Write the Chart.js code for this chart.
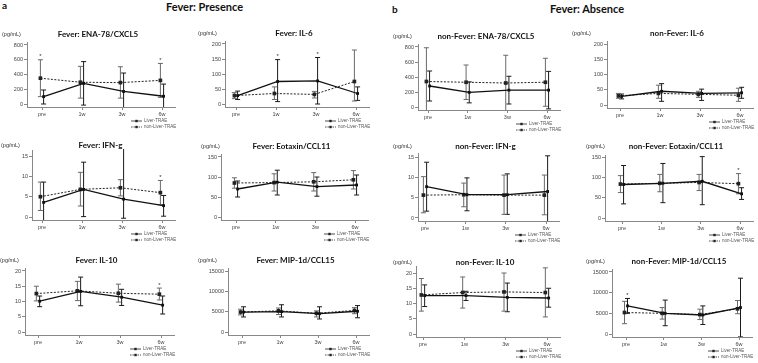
<!DOCTYPE html>
<html lang="en">
<head>
<meta charset="UTF-8">
<title>Fever: Presence / Absence</title>
<script src="https://cdn.jsdelivr.net/npm/chart.js"></script>
<style>
  body, html { margin: 0; padding: 0; width: 758px; height: 363px; overflow: hidden; background: #fff; }
  #wrap { position: relative; width: 758px; height: 363px; font-family: Lato, "Open Sans", Arial, sans-serif; }
  #wrap canvas { position: absolute; }
  .hdr { position: absolute; font-weight: 700; color: #111; white-space: nowrap; line-height: 1; }
</style>
</head>
<body>
<div id="wrap">
  <div class="hdr" style="left:2px;top:0px;font-size:10px">a</div>
  <div class="hdr" style="left:166px;top:1px;font-size:11px">Fever: Presence</div>
  <div class="hdr" style="left:392px;top:4px;font-size:10px">b</div>
  <div class="hdr" style="left:550px;top:3px;font-size:11px">Fever: Absence</div>
</div>
<script>
const timepoints = ['pre', '1w', '3w', '6w'];
const seriesNames = ['Liver-TRAE', 'non-Liver-TRAE'];

// values: mean, lower and upper end of each error bar
const feverENA = {
  title: 'Fever: ENA-78/CXCL5', yTicks: [0, 200, 400, 600, 800],
  liver: [100, 280, 170, 105], liverLo: [0, -15, -80, -60], liverHi: [190, 575, 420, 270],
  other: [350, 295, 290, 320], otherLo: [100, 80, 80, 90], otherHi: [600, 510, 505, 550],
  liverStars: [], otherStars: [0, 3]
};
const feverIL6 = {
  title: 'Fever: IL-6', yTicks: [0, 50, 100, 150, 200],
  liver: [28, 75, 77, 35], liverLo: [15, 8, 0, 12], liverHi: [43, 148, 155, 57],
  other: [28, 35, 32, 75], otherLo: [18, 15, 20, 10], otherHi: [38, 57, 42, 180],
  liverStars: [1, 2], otherStars: []
};
const nofeverENA = {
  title: 'non-Fever: ENA-78/CXCL5', yTicks: [0, 200, 400, 600, 800],
  liver: [280, 195, 225, 225], liverLo: [80, 55, 40, -25], liverHi: [480, 335, 410, 475],
  other: [340, 330, 320, 330], otherLo: [-100, 100, -50, 10], otherHi: [790, 560, 690, 650],
  liverStars: [], otherStars: []
};
const nofeverIL6 = {
  title: 'non-Fever: IL-6', yTicks: [0, 50, 100, 150, 200],
  liver: [28, 45, 38, 40], liverLo: [20, 12, 15, 22], liverHi: [36, 70, 52, 58],
  other: [30, 38, 35, 32], otherLo: [22, 22, 25, 12], otherHi: [38, 65, 45, 55],
  liverStars: [], otherStars: []
};
const feverIFN = {
  title: 'Fever: IFN-g', yTicks: [0, 5, 10, 15],
  liver: [3.6, 6.8, 4.4, 2.8], liverLo: [-1, 0.1, -0.3, 0.2], liverHi: [8.6, 13.5, 19, 5.3],
  other: [5.0, 6.8, 7.2, 6.0], otherLo: [1.6, 2.7, 5.2, 3.0], otherHi: [8.6, 11, 9.2, 9.0],
  liverStars: [], otherStars: [3]
};
const feverEotaxin = {
  title: 'Fever: Eotaxin/CCL11', yTicks: [0, 50, 100, 150],
  liver: [70, 87, 76, 80], liverLo: [50, 55, 52, 55], liverHi: [90, 117, 100, 105],
  other: [85, 86, 88, 93], otherLo: [72, 65, 65, 70], otherHi: [98, 108, 111, 116],
  liverStars: [], otherStars: []
};
const nofeverIFN = {
  title: 'non-Fever: IFN-g', yTicks: [0, 5, 10, 15],
  liver: [7.8, 5.8, 5.8, 6.6], liverLo: [1.7, 1.8, 0.9, -2.4], liverHi: [13.9, 10, 11, 15.5],
  other: [5.7, 5.8, 5.7, 5.7], otherLo: [1.3, 2.8, 0.9, 0.8], otherHi: [10.3, 8.7, 10.7, 10.7],
  liverStars: [], otherStars: []
};
const nofeverEotaxin = {
  title: 'non-Fever: Eotaxin/CCL11', yTicks: [0, 50, 100, 150],
  liver: [83, 86, 91, 60], liverLo: [35, 38, 33, 46], liverHi: [130, 135, 152, 75],
  other: [84, 86, 88, 85], otherLo: [63, 65, 68, 60], otherHi: [105, 108, 108, 110],
  liverStars: [], otherStars: [3]
};
const feverIL10 = {
  title: 'Fever: IL-10', yTicks: [0, 5, 10, 15, 20],
  liver: [10.1, 13.3, 11.4, 8.8], liverLo: [8.3, 8.6, 8.7, 5.9], liverHi: [11.8, 18, 14, 11.8],
  other: [12.6, 13.5, 12.7, 12.4], otherLo: [10.2, 10.3, 9.8, 10.5], otherHi: [15, 16.6, 15.7, 14.4],
  liverStars: [], otherStars: [3]
};
const feverMIP = {
  title: 'Fever: MIP-1d/CCL15', yTicks: [0, 5000, 10000, 15000],
  liver: [4900, 5000, 4500, 5100], liverLo: [3700, 3700, 3200, 3500], liverHi: [6200, 6700, 6200, 6500],
  other: [4900, 5200, 4600, 5300], otherLo: [4200, 4300, 3700, 4500], otherHi: [5600, 5900, 5200, 6000],
  liverStars: [], otherStars: []
};
const nofeverIL10 = {
  title: 'non-Fever: IL-10', yTicks: [0, 5, 10, 15, 20],
  liver: [12.6, 12.6, 12.0, 11.8], liverLo: [9, 11, 7.3, 8.8], liverHi: [16.1, 14, 16.7, 15],
  other: [12.8, 13.6, 13.8, 13.6], otherLo: [7.5, 8.5, 7.5, 5.6], otherHi: [18.2, 18.7, 20, 21.7],
  liverStars: [], otherStars: []
};
const nofeverMIP = {
  title: 'non-Fever: MIP-1d/CCL15', yTicks: [0, 5000, 10000, 15000],
  liver: [6800, 5000, 4600, 6400], liverLo: [5000, 2000, 2300, -700], liverHi: [8600, 8200, 6800, 13500],
  other: [5200, 5000, 4700, 6100], otherLo: [2500, 3600, 3500, 4900], otherHi: [7900, 6400, 6000, 8100],
  liverStars: [0], otherStars: []
};

// where each panel sits on the page (pixels)
const layout = [
  { d: feverENA,       axisX: 27,  preX: 42,  lastX: 162, topY: 45,  zeroY: 104, unitX: 2 },
  { d: feverIL6,       axisX: 225, preX: 236, lastX: 356, topY: 44,  zeroY: 104, unitX: 198 },
  { d: nofeverENA,     axisX: 418, preX: 428, lastX: 547, topY: 47,  zeroY: 107, unitX: 393 },
  { d: nofeverIL6,     axisX: 607, preX: 620, lastX: 740, topY: 44,  zeroY: 105, unitX: 572 },
  { d: feverIFN,       axisX: 32,  preX: 42,  lastX: 162, topY: 156, zeroY: 217, unitX: 1, yMax: 16.5 },
  { d: feverEotaxin,   axisX: 221, preX: 236, lastX: 355, topY: 157, zeroY: 217, unitX: 201 },
  { d: nofeverIFN,     axisX: 418, preX: 425, lastX: 546, topY: 158, zeroY: 218, unitX: 393, yMax: 16.2 },
  { d: nofeverEotaxin, axisX: 605, preX: 622, lastX: 740, topY: 157, zeroY: 218, unitX: 586, yMax: 156 },
  { d: feverIL10,      axisX: 25,  preX: 38,  lastX: 161, topY: 271, zeroY: 332, unitX: 0 },
  { d: feverMIP,       axisX: 228, preX: 242, lastX: 356, topY: 271, zeroY: 332, unitX: 198 },
  { d: nofeverIL10,    axisX: 416, preX: 423, lastX: 547, topY: 273, zeroY: 334, unitX: 393, yMax: 22.3 },
  { d: nofeverMIP,     axisX: 612, preX: 626, lastX: 739, topY: 272, zeroY: 334, unitX: 586 }
];

const PADL = 40, PADT = 26, PADR = 8, XAH = 12, PADB = 18;
const TICK_FONT = { family: 'Arial, sans-serif', size: 5.5 };

// error bars, drawn under the lines
const errorBars = {
  id: 'errorBars',
  beforeDatasetsDraw(chart) {
    const { ctx, chartArea: a, scales: { x, y } } = chart;
    ctx.save();
    ctx.beginPath();
    ctx.rect(a.left, a.top - 1, a.right - a.left, a.bottom - a.top + 1);
    ctx.clip();
    chart.data.datasets.forEach(ds => {
      ctx.strokeStyle = ds.errColor;
      ctx.lineWidth = 1;
      ds.data.forEach((pt, i) => {
        const px = x.getPixelForValue(pt.x);
        const lo = y.getPixelForValue(ds.lo[i]);
        const hi = y.getPixelForValue(ds.hi[i]);
        ctx.beginPath();
        ctx.moveTo(px, lo); ctx.lineTo(px, hi);
        ctx.moveTo(px - 2.5, lo); ctx.lineTo(px + 2.5, lo);
        ctx.moveTo(px - 2.5, hi); ctx.lineTo(px + 2.5, hi);
        ctx.stroke();
      });
    });
    ctx.restore();
  }
};

// title, unit, asterisks and the small legend
const panelText = {
  id: 'panelText',
  afterDraw(chart, args, opts) {
    const { ctx, chartArea: a, scales: { x, y } } = chart;
    const top = y.getPixelForValue(opts.top);
    ctx.save();
    ctx.fillStyle = '#111';
    ctx.textBaseline = 'middle';
    ctx.textAlign = 'center';
    ctx.font = '700 8px Lato, "Open Sans", sans-serif';
    ctx.fillText(opts.title, (a.left + a.right) / 2 - 3, top - 11);
    ctx.textAlign = 'left';
    ctx.font = '5.5px Arial, sans-serif';
    ctx.fillStyle = '#333';
    ctx.fillText('(pg/mL)', opts.unitX, top - 11);

    ctx.textAlign = 'center';
    ctx.font = '6px Arial, sans-serif';
    chart.data.datasets.forEach(ds => {
      ds.stars.forEach(i => {
        ctx.fillText('*', x.getPixelForValue(ds.data[i].x), y.getPixelForValue(ds.hi[i]) - 3);
      });
    });

    const lx = a.right - 44, ly = y.getPixelForValue(0) + 17;
    chart.data.datasets.forEach((ds, k) => {
      const yy = ly + k * 6;
      ctx.strokeStyle = '#222';
      ctx.lineWidth = 0.8;
      ctx.setLineDash(k ? [1.5, 1] : []);
      ctx.beginPath(); ctx.moveTo(lx, yy); ctx.lineTo(lx + 11, yy); ctx.stroke();
      ctx.setLineDash([]);
      ctx.fillStyle = '#222';
      ctx.fillRect(lx + 4.3, yy - 1.2, 2.4, 2.4);
      ctx.fillStyle = '#555';
      ctx.textAlign = 'left';
      ctx.font = '4.5px Arial, sans-serif';
      ctx.fillText(ds.label, lx + 13, yy);
    });
    ctx.restore();
  }
};

const wrap = document.getElementById('wrap');

layout.forEach(g => {
  const d = g.d;
  const T = d.yTicks[d.yTicks.length - 1];
  const ppx = (g.lastX - g.preX) / 3;
  const ppu = (g.zeroY - g.topY) / T;
  const xMin = -(g.preX - g.axisX) / ppx;
  const xMax = 3 + 13 / ppx;
  const yMin = -3 / ppu;
  const yMax = g.yMax ?? (T + 3 / ppu);
  const plotW = Math.round((xMax - xMin) * ppx);
  const plotTop = Math.round(g.topY - (yMax - T) * ppu);
  const plotH = g.zeroY + 3 - plotTop;

  const cv = document.createElement('canvas');
  const W = PADL + plotW + PADR, H = PADT + plotH + XAH + PADB;
  const left = g.axisX - PADL, top = plotTop - PADT;
  cv.width = W; cv.height = H;
  cv.style.width = W + 'px'; cv.style.height = H + 'px';
  cv.style.left = left + 'px'; cv.style.top = top + 'px';
  wrap.appendChild(cv);

  const pts = (vals, off) => vals.map((v, i) => ({ x: i + off, y: v }));

  new Chart(cv.getContext('2d'), {
    type: 'line',
    data: {
      datasets: [
        {
          label: seriesNames[0],
          data: pts(d.liver, 0.04),
          lo: d.liverLo, hi: d.liverHi, stars: d.liverStars, errColor: '#1a1a1a',
          borderColor: '#111', borderWidth: 1.3, tension: 0,
          pointStyle: 'rect', pointRadius: 2, backgroundColor: '#111', pointBorderWidth: 0
        },
        {
          label: seriesNames[1],
          data: pts(d.other, -0.04),
          lo: d.otherLo, hi: d.otherHi, stars: d.otherStars, errColor: '#6a6a6a',
          borderColor: '#222', borderWidth: 1, borderDash: [2, 1.5], tension: 0,
          pointStyle: 'rect', pointRadius: 2.6, backgroundColor: '#222', pointBorderWidth: 0
        }
      ]
    },
    options: {
      responsive: false,
      animation: false,
      devicePixelRatio: 1,
      layout: { padding: { top: PADT, right: PADR, bottom: PADB, left: 0 } },
      scales: {
        x: {
          type: 'linear', min: xMin, max: xMax,
          afterBuildTicks: s => { s.ticks = timepoints.map((t, i) => ({ value: i })); },
          afterFit: s => { s.height = XAH; },
          ticks: { callback: v => timepoints[v] ?? '', font: TICK_FONT, color: '#444', padding: 1, maxRotation: 0, autoSkip: false },
          grid: { display: true, drawOnChartArea: false, tickLength: 3, color: '#888' },
          border: { display: true, color: '#888', width: 1 }
        },
        y: {
          min: yMin, max: yMax,
          afterBuildTicks: s => { s.ticks = d.yTicks.map(v => ({ value: v })); },
          afterFit: s => { s.width = PADL; },
          ticks: { callback: v => String(v), font: TICK_FONT, color: '#444', padding: 1 },
          grid: { display: true, drawOnChartArea: false, tickLength: 3, color: '#888' },
          border: { display: true, color: '#888', width: 1 }
        }
      },
      plugins: {
        legend: { display: false },
        tooltip: { enabled: false },
        title: { display: false },
        panelText: { title: d.title, unitX: g.unitX - left, top: T }
      }
    },
    plugins: [errorBars, panelText]
  });
});
</script>
</body>
</html>
